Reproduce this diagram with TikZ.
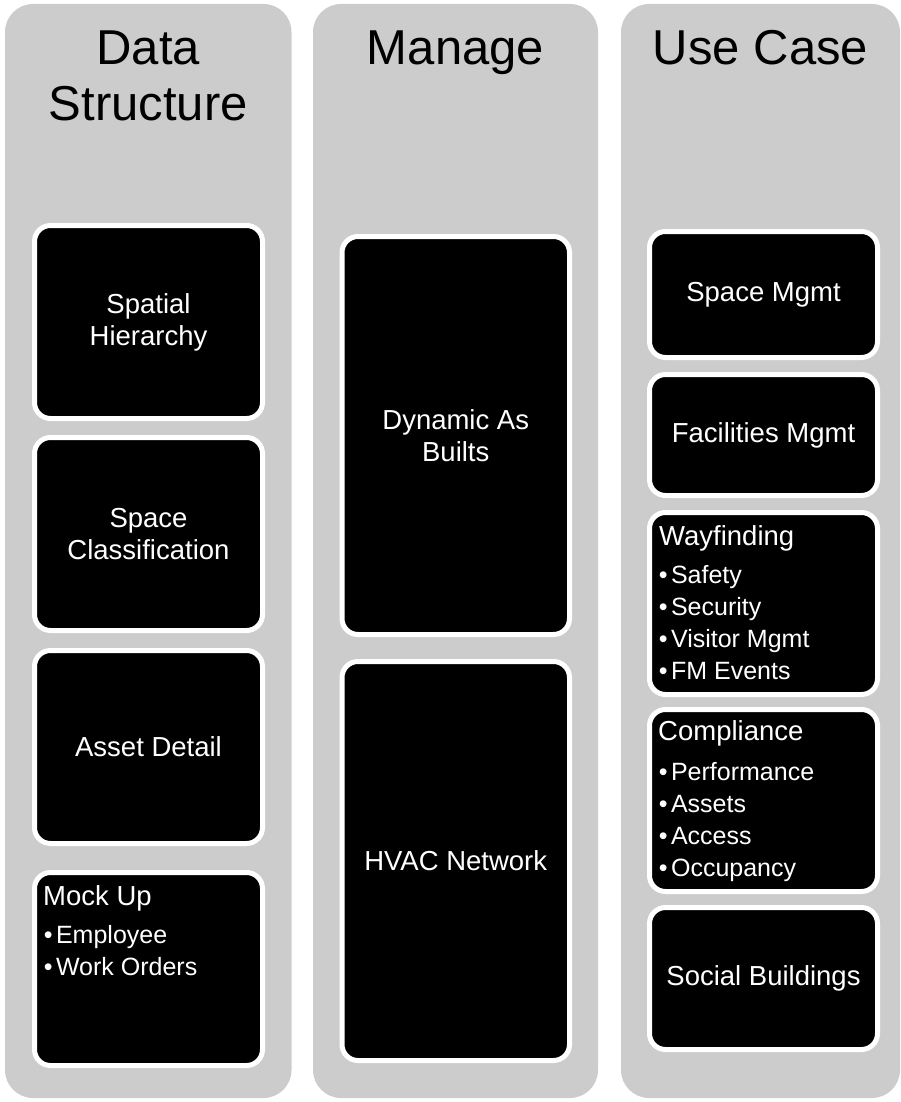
\documentclass[tikz,border=0pt]{standalone}
\usepackage{fontspec}
\setmainfont{Liberation Sans}
\usetikzlibrary{positioning}
\definecolor{colgray}{RGB}{204,204,204}

\begin{document}
\begin{tikzpicture}[
    x=1pt, y=-1pt,
    column/.style={rectangle, rounded corners=28pt, fill=colgray, inner sep=0pt, minimum height=1094pt},
    title/.style={align=center, inner sep=0pt, font=\fontsize{49}{56}\selectfont},
    cell/.style={rectangle, rounded corners=16pt, fill=black, draw=white, line width=5pt, text=white, inner sep=0pt, align=center, font=\fontsize{27.5}{32}\selectfont},
    head/.style={anchor=base west, inner sep=0pt, text=white, font=\fontsize{27.5}{32}\selectfont},
    items/.style={anchor=north west, inner sep=0pt, text=white, align=left, font=\fontsize{25}{32}\selectfont}
]
\useasboundingbox (0,0) rectangle (901,1102);

% Columns
\node[column, minimum width=286.5pt] (colData) at (148.25, 551) {};
\node[column, minimum width=285pt] (colManage) at (455.5, 551) {};
\node[column, minimum width=279pt] (colUse) at (760.5, 551) {};

% Titles
\node[title] (titleData) at (148.25, 75.5) {Data\\Structure};
\node[title, anchor=base] (titleManage) at (455.5, 65) {Manage};
\node[title, anchor=base] (titleUse) at (760.5, 65) {Use Case};

% Data Structure
\node[cell, minimum width=228pt, minimum height=193pt] (cellHierarchy) at (148.5, 322) {Spatial\\Hierarchy};
\node[cell, minimum width=228pt, minimum height=193pt] (cellClass) at (148.5, 534) {Space\\Classification};
\node[cell, minimum width=228pt, minimum height=193pt] (cellAsset) at (148.5, 747) {Asset Detail};
\node[cell, minimum width=228pt, minimum height=193pt] (cellMock) at (148.5, 969) {};
\node[head] (headMock) at (43, 905) {Mock Up};
\node[items] (itemsMock) at (43.6, 925) {•\hspace{3.5pt}Employee\\•\hspace{3.5pt}Work Orders};

% Manage
\node[cell, minimum width=227.5pt, minimum height=398pt] (cellBuilts) at (455.75, 435.5) {Dynamic As\\Builts};
\node[cell, minimum width=227.5pt, minimum height=399pt] (cellHvac) at (455.75, 861) {HVAC Network};

% Use Case
\node[cell, minimum width=228pt, minimum height=126pt] (cellSpace) at (763.5, 294.5) {Space Mgmt};
\node[cell, minimum width=228pt, minimum height=121pt] (cellFacilities) at (763.5, 435) {Facilities Mgmt};
\node[cell, minimum width=228pt, minimum height=182pt] (cellWay) at (763.5, 603.5) {};
\node[head] (headWay) at (659, 545) {Wayfinding};
\node[items] (itemsWay) at (658.6, 565) {•\hspace{3.5pt}Safety\\•\hspace{3.5pt}Security\\•\hspace{3.5pt}Visitor Mgmt\\•\hspace{3.5pt}FM Events};
\node[cell, minimum width=228pt, minimum height=182pt] (cellComp) at (763.5, 800.5) {};
\node[head] (headComp) at (658, 740) {Compliance};
\node[items] (itemsComp) at (658.6, 762) {•\hspace{3.5pt}Performance\\•\hspace{3.5pt}Assets\\•\hspace{3.5pt}Access\\•\hspace{3.5pt}Occupancy};
\node[cell, minimum width=228pt, minimum height=142pt] (cellSocial) at (763.5, 978.5) {Social Buildings};

\end{tikzpicture}
\end{document}
